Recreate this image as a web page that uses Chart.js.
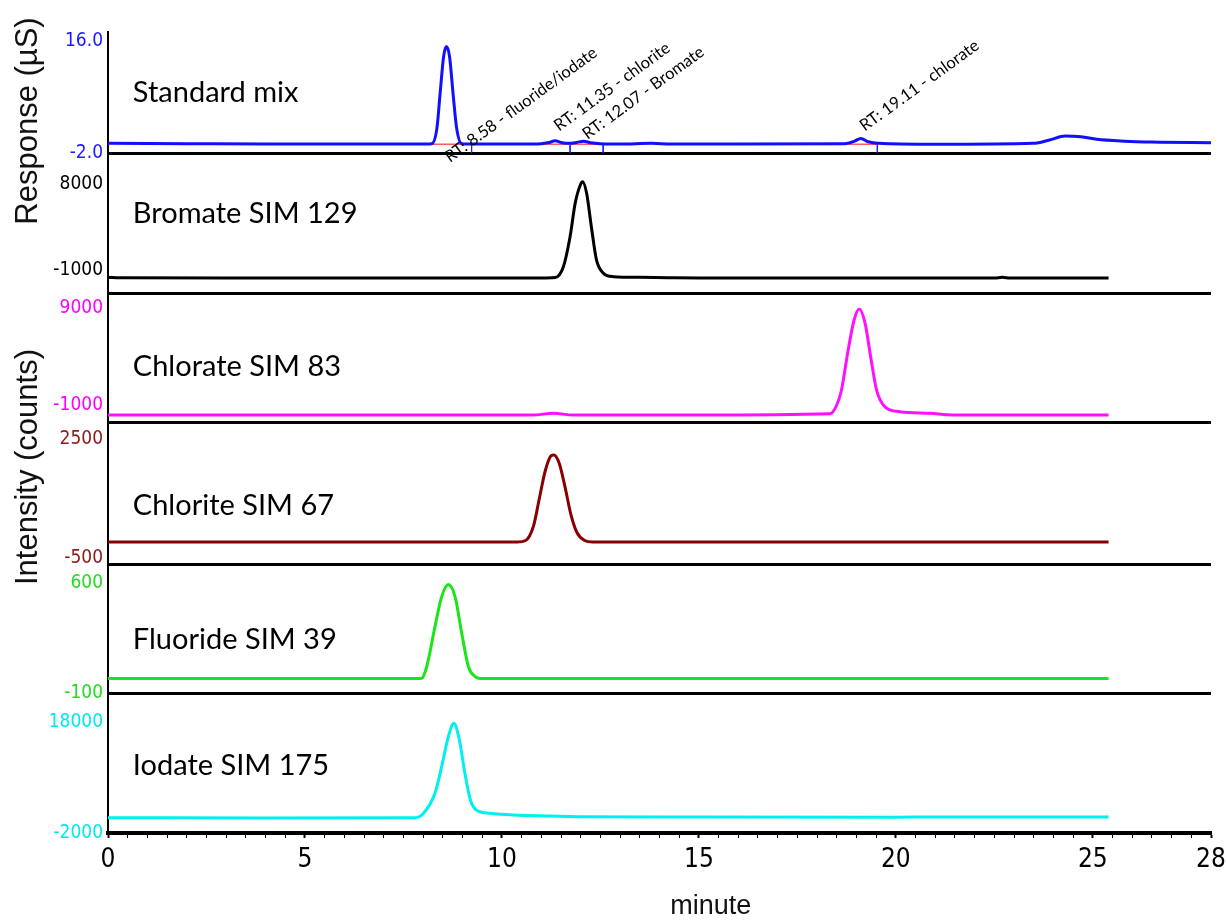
<!DOCTYPE html>
<html>
<head>
<meta charset="utf-8">
<script src="https://cdn.jsdelivr.net/npm/chart.js@4"></script>
<style>
html, body { margin: 0; padding: 0; background: #fff; }
canvas { display: block; }
</style>
</head>
<body>
<canvas id="chart" width="1227" height="922"></canvas>
<script>
// x axis (minutes)
const xMajorTicks = [0, 5, 10, 15, 20, 25, 28];

// panels, top to bottom
const panelNames = ['Standard mix', 'Bromate SIM 129', 'Chlorate SIM 83', 'Chlorite SIM 67', 'Fluoride SIM 39', 'Iodate SIM 175'];
const yTopTicks = [16.0, 8000, 9000, 2500, 600, 18000];
const yBottomTicks = [-2.0, -1000, -1000, -500, -100, -2000];
const yMins = [-2.0, -3407, -2753, -651, -100, -2000];
const yMaxs = [17.45, 11244, 10546, 2929, 721, 23225];

// conductivity trace (uS)
const mixTime = [0, 2, 4, 6, 7.9, 8.22, 8.35, 8.43, 8.52, 8.59, 8.67, 8.76, 8.85, 8.98, 9.3, 10.5, 11.0, 11.2, 11.35, 11.5, 11.7, 11.9, 12.07, 12.25, 12.5, 13.0, 13.8, 14.3, 16, 18.7, 18.95, 19.11, 19.3, 19.55, 21, 23.5, 23.9, 24.3, 24.7, 25.1, 25.8, 26.5, 28];
const mixResp = [-0.45, -0.5, -0.55, -0.55, -0.55, -0.5, 2.0, 7.5, 13.5, 15.1, 13.5, 7.5, 2.0, -0.5, -0.55, -0.55, -0.5, -0.3, -0.05, -0.3, -0.45, -0.3, -0.1, -0.35, -0.5, -0.55, -0.45, -0.55, -0.55, -0.5, -0.1, 0.35, -0.2, -0.45, -0.6, -0.45, 0.1, 0.72, 0.6, 0.2, -0.1, -0.25, -0.35];

// SIM traces (counts)
const bromateTime = [0, 0.3, 3, 6, 9, 11.0, 11.35, 11.56, 11.73, 11.86, 11.99, 12.05, 12.15, 12.27, 12.4, 12.57, 12.83, 13.5, 14.2, 15, 22.5, 22.7, 22.9, 25.4];
const bromateCounts = [-1780, -1820, -1840, -1840, -1840, -1840, -1790, -650, 2490, 6000, 7900, 8240, 7030, 3530, 50, -1310, -1700, -1770, -1810, -1840, -1840, -1760, -1840, -1840];

const chlorateTime = [0, 5, 10.8, 11.3, 11.8, 15, 18.33, 18.5, 18.62, 18.79, 18.94, 19.07, 19.22, 19.36, 19.51, 19.72, 20.1, 20.87, 21.46, 25.4];
const chlorateCounts = [-2030, -2030, -2030, -1850, -2030, -2030, -1900, -1000, 550, 4670, 7760, 8900, 7420, 3980, 550, -1180, -1690, -1860, -2030, -2030];

const chloriteTime = [0, 5, 10.4, 10.6, 10.8, 10.95, 11.1, 11.25, 11.32, 11.45, 11.6, 11.75, 11.9, 12.1, 12.3, 25.4];
const chloriteCounts = [-97, -97, -97, -60, 300, 1000, 1700, 2080, 2100, 1900, 1300, 600, 150, -60, -97, -97];

const fluorideTime = [0, 5, 7.85, 7.97, 8.09, 8.3, 8.47, 8.64, 8.81, 8.98, 9.15, 9.32, 9.45, 15, 25.4];
const fluorideCounts = [-8, -8, -8, -5, 67, 322, 513, 590, 513, 280, 67, 4, -8, -8, -8];

const iodateTime = [0, 4, 7.8, 8.01, 8.3, 8.47, 8.64, 8.78, 8.92, 9.06, 9.2, 9.35, 9.7, 10.29, 11.14, 11.98, 15, 20, 25.4];
const iodateCounts = [750, 720, 760, 1550, 5150, 9950, 15350, 17770, 14760, 8760, 3950, 2150, 1550, 1240, 1060, 940, 880, 860, 900];

// peak labels and integration marks on the standard mix
const rtValues = [8.58, 11.35, 12.07, 19.11];
const rtLabels = ['RT: 8.58 - fluoride/iodate', 'RT: 11.35 - chlorite', 'RT: 12.07 - Bromate', 'RT: 19.11 - chlorate'];
const intStart = [8.17, 10.97, 18.71];
const intEnd = [9.23, 12.57, 19.53];
const dropTimes = [9.23, 11.73, 12.57, 19.53];

const panelIds = ['y1', 'y2', 'y3', 'y4', 'y5', 'y6'];
const lineColors = ['#1010ff', '#000000', '#ff10ff', '#880000', '#19e619', '#00f0f0'];
const tickColors = ['#1a1aff', '#000000', '#ff00ff', '#8b1a1a', '#22dd22', '#00e8f0'];
const panelWeights = [121, 140, 129, 142, 129, 140];
const labelFrac = [0.50, 0.57, 0.43, 0.41, 0.41, 0.48];
const rtLabelY = [-3.6, 1.4, 0.1, 1.4];

const narrow = '"Liberation Sans Narrow", "Arial Narrow", "DejaVu Sans Condensed", sans-serif';

const traces = [
    [mixTime, mixResp],
    [bromateTime, bromateCounts],
    [chlorateTime, chlorateCounts],
    [chloriteTime, chloriteCounts],
    [fluorideTime, fluorideCounts],
    [iodateTime, iodateCounts],
];

const datasets = traces.map((t, i) => ({
    data: t[0].map((x, k) => ({ x: x, y: t[1][k] })),
    yAxisID: panelIds[i],
    borderColor: lineColors[i],
    borderWidth: 3,
    pointRadius: 0,
    cubicInterpolationMode: 'monotone',
}));

const redData = [];
intStart.forEach((s, i) => {
    redData.push({ x: s, y: -0.6 }, { x: intEnd[i], y: -0.6 }, { x: intEnd[i], y: null });
});
const dropData = [];
dropTimes.forEach(t => {
    dropData.push({ x: t, y: -0.55 }, { x: t, y: -2.0 }, { x: t, y: null });
});
datasets.push({ data: redData, yAxisID: 'y1', borderColor: '#ff5a5a', borderWidth: 1.5, pointRadius: 0, spanGaps: false });
datasets.push({ data: dropData, yAxisID: 'y1', borderColor: '#2020ff', borderWidth: 1, pointRadius: 0, spanGaps: false });

function makeYScale(i) {
    return {
        type: 'linear',
        position: 'left',
        stack: 'panels',
        stackWeight: panelWeights[i],
        min: yMins[i],
        max: yMaxs[i],
        afterBuildTicks: s => {
            const vals = [...new Set([yMins[i], yBottomTicks[i], yTopTicks[i]])];
            s.ticks = vals.map(v => ({ value: v }));
        },
        afterFit: s => {
            s.width = 100;
            s.paddingTop = 0;
            s.paddingBottom = 0;
        },
        ticks: {
            color: tickColors[i],
            font: { family: narrow, size: 19 },
            padding: 5,
            callback: v => {
                if (v === yBottomTicks[i] || v === yTopTicks[i]) return i === 0 ? v.toFixed(1) : String(v);
                return '';
            }
        },
        grid: {
            drawTicks: false,
            lineWidth: 3,
            color: ctx => (ctx.tick && ctx.tick.value === yMins[i] ? '#000' : 'rgba(0,0,0,0)')
        },
        border: { display: true, color: '#000', width: 2 }
    };
}

const scales = {
    x: {
        type: 'linear',
        min: 0,
        max: 28,
        afterBuildTicks: s => {
            const t = [];
            for (let v = 0; v <= 28; v += 0.5) t.push({ value: v });
            s.ticks = t;
        },
        afterFit: s => {
            s.height = 89;
            s.paddingLeft = 0;
            s.paddingRight = 0;
        },
        ticks: {
            autoSkip: false,
            maxRotation: 0,
            color: '#000',
            font: { family: narrow, size: 26 },
            padding: 7,
            callback: v => (xMajorTicks.includes(v) ? String(v) : '')
        },
        grid: {
            drawOnChartArea: false,
            drawTicks: true,
            tickLength: 5,
            tickColor: '#000',
            tickWidth: ctx => (ctx.tick && xMajorTicks.includes(ctx.tick.value) ? 2 : 1)
        },
        border: { color: '#000', width: 4 }
    }
};
// bottom panel first so the stack places the standard mix on top
for (let i = panelIds.length - 1; i >= 0; i--) {
    scales[panelIds[i]] = makeYScale(i);
}

const textPlugin = {
    id: 'panelText',
    afterDatasetsDraw(chart) {
        const ctx = chart.ctx;
        const xs = chart.scales.x;
        const area = chart.chartArea;
        ctx.save();
        ctx.fillStyle = '#000';
        ctx.textBaseline = 'middle';
        ctx.textAlign = 'left';
        ctx.font = '29px Lato, sans-serif';
        panelNames.forEach((name, i) => {
            const s = chart.scales[panelIds[i]];
            ctx.fillText(name, xs.getPixelForValue(0.63), s.getPixelForDecimal(labelFrac[i]));
        });

        // retention time labels
        ctx.font = '16.5px Lato, sans-serif';
        ctx.textBaseline = 'alphabetic';
        const y1 = chart.scales.y1;
        rtValues.forEach((rt, i) => {
            ctx.save();
            ctx.translate(xs.getPixelForValue(rt) + 4, y1.getPixelForValue(rtLabelY[i]));
            ctx.rotate(-36 * Math.PI / 180);
            ctx.fillText(rtLabels[i], 0, 0);
            ctx.restore();
        });

        // axis titles
        ctx.font = '27px "Liberation Sans", Arial, sans-serif';
        ctx.fillStyle = '#111';
        ctx.textAlign = 'center';
        ctx.textBaseline = 'middle';
        ctx.fillText('minute', xs.getPixelForValue(15.3), area.bottom + 74);

        ctx.font = '31px "Liberation Sans", Arial, sans-serif';
        const titles = [['Response (µS)', y1.bottom - 32], ['Intensity (counts)', chart.scales.y4.top + 45]];
        titles.forEach(t => {
            ctx.save();
            ctx.translate(area.left - 80, t[1]);
            ctx.rotate(-Math.PI / 2);
            ctx.fillText(t[0], 0, 0);
            ctx.restore();
        });
        ctx.restore();
    }
};

new Chart(document.getElementById('chart'), {
    type: 'line',
    data: { datasets: datasets },
    options: {
        responsive: false,
        animation: false,
        devicePixelRatio: 1,
        layout: { padding: { top: 32, left: 8, right: 16, bottom: 0 } },
        plugins: {
            legend: { display: false },
            tooltip: { enabled: false }
        },
        scales: scales
    },
    plugins: [textPlugin]
});
</script>
</body>
</html>
